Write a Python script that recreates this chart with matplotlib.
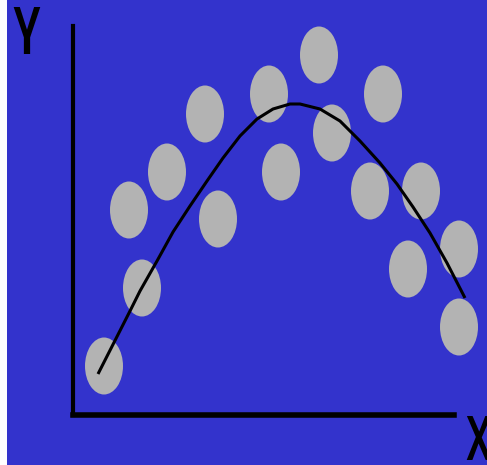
import matplotlib.pyplot as plt
from matplotlib.patches import Ellipse, Rectangle

# scatter of observations (x, y in chart units, origin at the axes corner)
dot_x = [31, 69, 56, 94, 132, 145, 196, 208, 246, 259, 310, 297, 348, 335, 386, 386]
dot_y = [49, 127, 205, 243, 301, 196, 321, 243, 360, 282, 321, 224, 224, 146, 166, 88]

# fitted curve
fit_x = [25, 57, 67, 84, 100, 117, 134, 150, 167, 184, 200, 217, 227,
         247, 267, 287, 307, 324, 340, 357, 374, 392]
fit_y = [41, 104, 124, 154, 183, 209, 234, 257, 279, 296, 306, 311, 311,
         306, 294, 274, 252, 231, 208, 182, 152, 117]

BLUE = "#3333cc"
GREY = "#b3b3b3"
W, H = 487, 465

fig = plt.figure(figsize=(W / 100, H / 100), dpi=100, facecolor=BLUE)
fig.add_artist(Rectangle((0, 0), 7 / W, 1, transform=fig.transFigure,
                         facecolor="white", edgecolor="none"))

# axes box in pixels: left 73, right 454, top 26, bottom 415
ax = fig.add_axes([73 / W, (H - 415) / H, (454 - 73) / W, (415 - 26) / H])
ax.set_facecolor("none")
ax.set_xlim(0, 381)
ax.set_ylim(0, 389)

for x, y in zip(dot_x, dot_y):
    ax.add_patch(Ellipse((x, y), 38, 57, facecolor=GREY, edgecolor="none",
                         clip_on=False, zorder=1))

ax.plot(fit_x, fit_y, color="black", linewidth=2.2, solid_capstyle="butt",
        solid_joinstyle="round", clip_on=False, zorder=2)

for side in ["top", "right"]:
    ax.spines[side].set_visible(False)
ax.spines["left"].set_linewidth(3.0)
ax.spines["bottom"].set_linewidth(4.0)
for side in ["left", "bottom"]:
    ax.spines[side].set_color("black")
    ax.spines[side].set_zorder(3)
ax.set_xticks([])
ax.set_yticks([])

font = dict(family=["Oswald", "DejaVu Sans"], weight="bold", color="black")
ax.text(-61, 361, "Y", fontsize=42, ha="left", va="baseline", clip_on=False, **font)
ax.text(392, -45, "X", fontsize=39, ha="left", va="baseline", clip_on=False, **font)

fig.savefig("out.png", dpi=100, facecolor=BLUE)
